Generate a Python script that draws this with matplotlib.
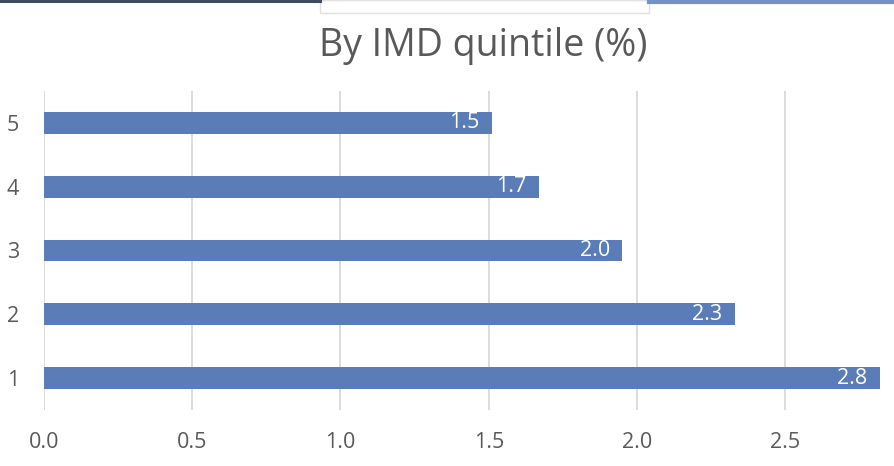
import matplotlib.pyplot as plt
from matplotlib.lines import Line2D
from matplotlib.patches import Rectangle

plt.rcParams['font.family'] = ['Open Sans', 'DejaVu Sans']

# data
quintiles = ['1', '2', '3', '4', '5']
values = [2.82, 2.33, 1.951, 1.67, 1.51]
xticks = [0.0, 0.5, 1.0, 1.5, 2.0, 2.5]

barcolor = '#5a7db7'
textgrey = '#595959'
gridgrey = '#d9d9d9'

fig = plt.figure(figsize=(8.94, 4.66), dpi=100)
ax = fig.add_axes([44/894, 1 - 410/466, (880-44)/894, (410-91)/466])

ypos = list(range(1, len(quintiles) + 1))
ax.barh(ypos, values, height=0.34, color=barcolor, zorder=3)

for y, v in zip(ypos, values):
    ax.annotate('%.1f' % v, xy=(v, y), xytext=(-9, 0), textcoords='offset points',
                ha='right', va='center', color='white', fontsize=15.5, zorder=4)

ax.set_xlim(0, max(values))
ax.set_ylim(0.5, len(quintiles) + 0.5)
ax.set_yticks(ypos)
ax.set_yticklabels(quintiles)
ax.set_xticks(xticks)
ax.set_xticklabels(['%.1f' % t for t in xticks])

ax.tick_params(axis='both', length=0, colors=textgrey, labelsize=15.5)
ax.tick_params(axis='y', pad=18)
ax.tick_params(axis='x', pad=16)

for s in ax.spines.values():
    s.set_visible(False)
ax.xaxis.grid(True, color=gridgrey, linewidth=1.3, zorder=0)
ax.yaxis.grid(False)

fig.text(483/894, 1 - 46/466, 'By IMD quintile (%)', ha='center', va='center',
         fontsize=27, color=textgrey)

# screenshot leftovers along the top edge
fig.add_artist(Line2D([0, 320/894], [1 - 1/466, 1 - 1/466], color='#3d4b5e', linewidth=2.2))
fig.add_artist(Line2D([649/894, 1], [1 - 1.5/466, 1 - 1.5/466], color='#7391c4', linewidth=3))
fig.add_artist(Rectangle((320/894, 1 - 13/466), (649-320)/894, 13/466,
                         transform=fig.transFigure, fill=False, edgecolor='#e0e0e0', linewidth=1))

plt.savefig('out.png', dpi=100)
